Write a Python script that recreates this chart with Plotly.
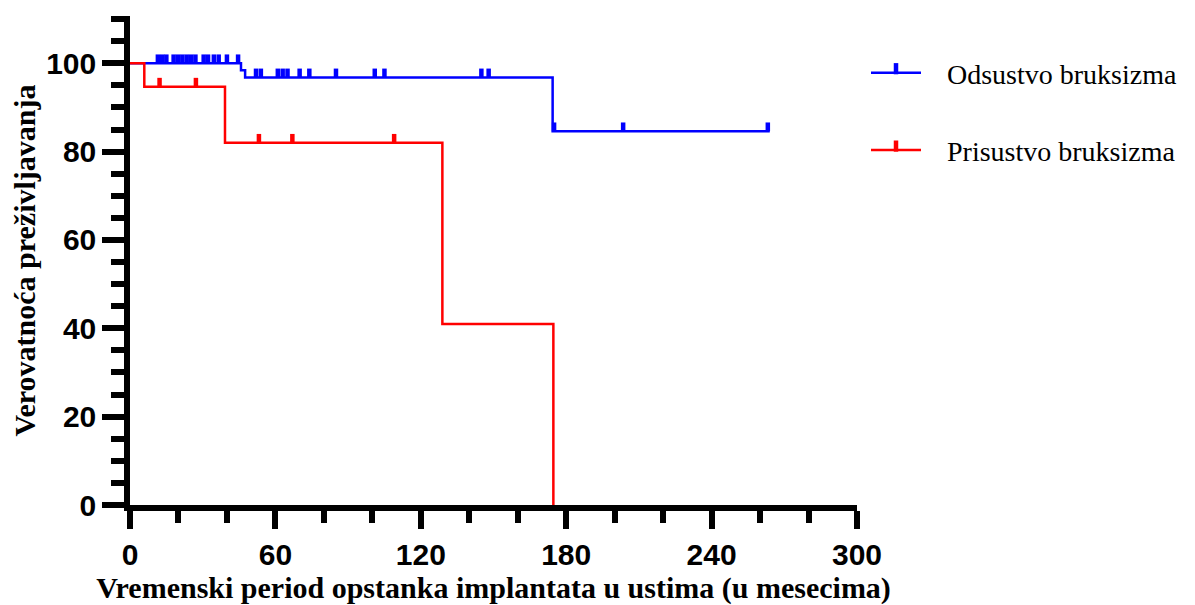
import plotly.graph_objects as go

# Kaplan-Meier survival of implants, by presence of bruxism (months)
group_names = ["Odsustvo bruksizma", "Prisustvo bruksizma"]
group_colors = ["#0000FF", "#FF0000"]

# event times and survival (%) right after each event
absent_event_t = [0, 45.8, 47.5, 174.4]
absent_event_s = [100, 98.4, 96.8, 84.6]
absent_end_t = 264.0
absent_censor_t = [11.5, 13.3, 15.0, 18.0, 19.8, 21.6, 23.4, 25.2, 27.0,
                   30.4, 32.2, 34.6, 36.6, 40.0, 44.6,
                   52.0, 54.0, 61.0, 63.0, 65.0, 70.0, 74.0, 85.0,
                   101.0, 105.0, 145.0, 148.0, 175.0, 203.5, 263.2]

present_event_t = [0, 5.9, 39.2, 128.9, 174.7]
present_event_s = [100, 94.7, 82.0, 41.0, 0]
present_end_t = 174.7
present_censor_t = [12.2, 27.2, 53.2, 67.0, 109.0]

x_ticks = [0, 60, 120, 180, 240, 300]
y_ticks = [0, 20, 40, 60, 80, 100]

CENSOR_LEN = 2.0   # height of a censor tick, in survival units


def km_path(ev_t, ev_s, end_t, cens_t):
    """Merge events and censor times into one step path; censored points carry a tick."""
    def surv_at(t):
        s = ev_s[0]
        for et, es in zip(ev_t, ev_s):
            if et <= t:
                s = es
        return s

    pts = [(t, s, 0.0) for t, s in zip(ev_t, ev_s)]
    pts += [(t, surv_at(t), CENSOR_LEN) for t in cens_t]
    if end_t not in ev_t:
        pts.append((end_t, surv_at(end_t), 0.0))
    pts.sort(key=lambda p: (p[0], -p[1]))
    xs = [p[0] for p in pts]
    ys = [p[1] for p in pts]
    es = [p[2] for p in pts]
    return xs, ys, es


fig = go.Figure()
series = [
    (absent_event_t, absent_event_s, absent_end_t, absent_censor_t),
    (present_event_t, present_event_s, present_end_t, present_censor_t),
]
for i, (et, es_, end_t, ct) in enumerate(series):
    xs, ys, errs = km_path(et, es_, end_t, ct)
    fig.add_trace(go.Scatter(
        x=xs, y=ys, mode="lines", name=group_names[i], showlegend=False,
        line=dict(color=group_colors[i], width=2.5, shape="hv"),
        error_y=dict(type="data", symmetric=False, array=errs,
                     arrayminus=[0] * len(errs), width=0, thickness=4.5,
                     color=group_colors[i]),
        legendgroup=f"g{i}", cliponaxis=False,
    ))
    # legend entry: line sample with a censor tick
    fig.add_trace(go.Scatter(
        x=[None], y=[None], mode="lines+markers",
        name="\u00a0\u00a0\u00a0" + group_names[i],
        line=dict(color=group_colors[i], width=2.5),
        marker=dict(symbol="line-ns", size=8, angle=0, standoff=4,
                    line=dict(color=group_colors[i], width=4.5)),
        legendgroup=f"g{i}", showlegend=True,
    ))

axis_common = dict(
    showline=True, linecolor="black", linewidth=5.5,
    ticks="outside", tickcolor="black", tickwidth=5.5,
    showgrid=False, zeroline=False, automargin=False,
    tickfont=dict(family="Liberation Sans", size=30, color="black", weight="bold"),
    title_font=dict(family="Liberation Serif", size=30, color="black", weight="bold"),
)

fig.update_layout(
    width=1195, height=605, autosize=False,
    margin=dict(l=130, r=338, t=16, b=100, autoexpand=False),
    plot_bgcolor="white", paper_bgcolor="white",
    xaxis=dict(
        range=[0, 300], tickmode="array", tickvals=x_ticks, ticklen=18,
        minor=dict(dtick=20, tick0=0, ticks="outside", ticklen=12,
                   tickwidth=5.5, tickcolor="black"),
        title=dict(text="Vremenski period opstanka implantata u ustima (u mesecima)",
                   standoff=7),
        **axis_common,
    ),
    yaxis=dict(
        range=[0, 110.7], tickmode="array", tickvals=y_ticks, ticklen=22,
        minor=dict(dtick=5, tick0=0, ticks="outside", ticklen=13,
                   tickwidth=5.5, tickcolor="black"),
        title=dict(text="Verovatnoća preživljavanja", standoff=4),
        **axis_common,
    ),
    showlegend=True,
    legend=dict(
        xref="container", yref="container", x=866 / 1195, y=1 - 48 / 605,
        xanchor="left", yanchor="top",
        font=dict(family="Liberation Serif", size=28, color="black"),
        traceorder="grouped", tracegroupgap=38, bgcolor="rgba(0,0,0,0)",
        itemwidth=50,
    ),
)

fig.write_html("out.html")
